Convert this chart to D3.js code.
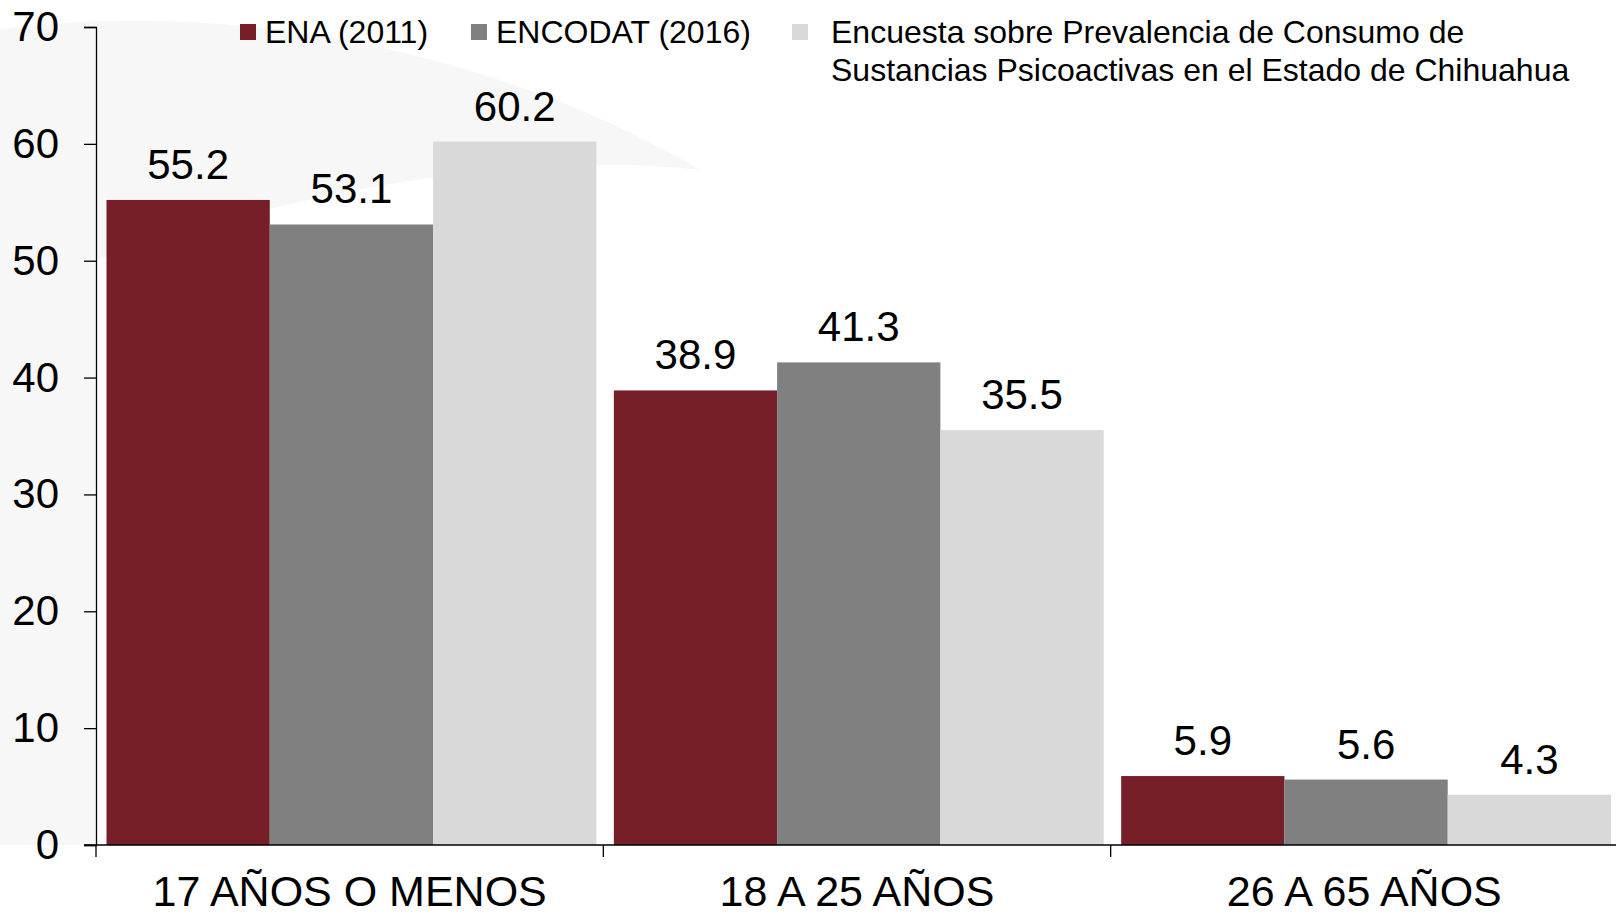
<!DOCTYPE html>
<html>
<head>
<meta charset="utf-8">
<script src="https://cdn.jsdelivr.net/npm/d3@7.9.0/dist/d3.min.js"></script>
<style>
  html, body { margin: 0; padding: 0; background: #fff; }
  svg { display: block; font-family: "Liberation Sans", Arial, sans-serif; }
</style>
</head>
<body>
<svg id="chart" width="1616" height="915"></svg>
<script>
// data
const categories = ["17 AÑOS O MENOS", "18 A 25 AÑOS", "26 A 65 AÑOS"];
const seriesNames = ["ENA (2011)", "ENCODAT (2016)", "Encuesta sobre Prevalencia de Consumo de\nSustancias Psicoactivas en el Estado de Chihuahua"];
const ena2011 = [55.2, 38.9, 5.9];
const encodat2016 = [53.1, 41.3, 5.6];
const chihuahua = [60.2, 35.5, 4.3];
const yTicks = [0, 10, 20, 30, 40, 50, 60, 70];

const colors = ["#761f29", "#808080", "#d9d9d9"];
const seriesValues = [ena2011, encodat2016, chihuahua];

const svg = d3.select("#chart");

const mLeft = 96, mRight = 1618, mTop = 27, mBottom = 845;

// faint watermark behind the chart
const wm = svg.append("g").attr("fill", "#f7f7f8");
wm.append("path").attr("d", "M0,110 C40,100 80,98 96,100 L96,845 L0,845 Z");
wm.append("path").attr("d", "M0,30 C200,0 480,40 700,170 C520,150 300,190 96,260 L0,290 Z");

const x0 = d3.scaleBand().domain(categories).range([mLeft, mRight]);
const x1 = d3.scaleBand().domain(d3.range(seriesNames.length)).range([10.5, x0.bandwidth() - 7]);
const y = d3.scaleLinear().domain([0, 70]).range([mBottom, mTop]);

// bars
const groups = svg.append("g")
  .selectAll("g")
  .data(categories)
  .join("g")
  .attr("transform", d => `translate(${x0(d)},0)`);

groups.selectAll("rect")
  .data((d, i) => seriesValues.map((s, k) => ({ k, v: s[i] })))
  .join("rect")
  .attr("x", d => x1(d.k))
  .attr("width", x1.bandwidth())
  .attr("y", d => y(d.v))
  .attr("height", d => y(0) - y(d.v))
  .attr("fill", d => colors[d.k]);

groups.selectAll("text")
  .data((d, i) => seriesValues.map((s, k) => ({ k, v: s[i] })))
  .join("text")
  .attr("x", d => x1(d.k) + x1.bandwidth() / 2)
  .attr("y", d => y(d.v) - 21)
  .attr("text-anchor", "middle")
  .attr("font-size", 42)
  .attr("fill", "#000")
  .text(d => d.v.toFixed(1));

// y axis
const yAxis = svg.append("g")
  .attr("transform", `translate(${mLeft},0)`)
  .call(d3.axisLeft(y).tickValues(yTicks).tickSize(12).tickPadding(25).tickFormat(d3.format("d")));
yAxis.select(".domain").attr("stroke", "#000").attr("stroke-width", 1.3);
yAxis.selectAll(".tick line").attr("stroke", "#000").attr("stroke-width", 1.3);
yAxis.selectAll(".tick text")
  .attr("font-size", 42)
  .attr("font-family", "Liberation Sans, Arial, sans-serif")
  .attr("fill", "#000");

// x axis with ticks at category boundaries
const xAxisG = svg.append("g").attr("transform", `translate(0,${mBottom})`);
xAxisG.append("line")
  .attr("x1", mLeft - 12).attr("x2", mRight)
  .attr("stroke", "#000").attr("stroke-width", 1.3);
xAxisG.selectAll("line.b")
  .data(categories)
  .join("line")
  .attr("class", "b")
  .attr("x1", d => x0(d)).attr("x2", d => x0(d))
  .attr("y1", 0).attr("y2", 12)
  .attr("stroke", "#000").attr("stroke-width", 1.3);
xAxisG.selectAll("text")
  .data(categories)
  .join("text")
  .attr("x", d => x0(d) + x0.bandwidth() / 2)
  .attr("y", 61)
  .attr("text-anchor", "middle")
  .attr("font-size", 43)
  .attr("fill", "#000")
  .text(d => d);

// legend
const legendX = [240, 471, 792];
const legend = svg.append("g");
seriesNames.forEach((name, i) => {
  const tx = legendX[i] + (i === 2 ? 39 : 25);
  legend.append("rect")
    .attr("x", legendX[i]).attr("y", 24)
    .attr("width", 16).attr("height", 16)
    .attr("fill", colors[i]);
  const t = legend.append("text")
    .attr("x", tx)
    .attr("y", 43)
    .attr("font-size", 32)
    .attr("fill", "#000");
  name.split("\n").forEach((line, j) => {
    t.append("tspan")
      .attr("x", tx)
      .attr("dy", j === 0 ? 0 : 38)
      .text(line);
  });
});
</script>
</body>
</html>
